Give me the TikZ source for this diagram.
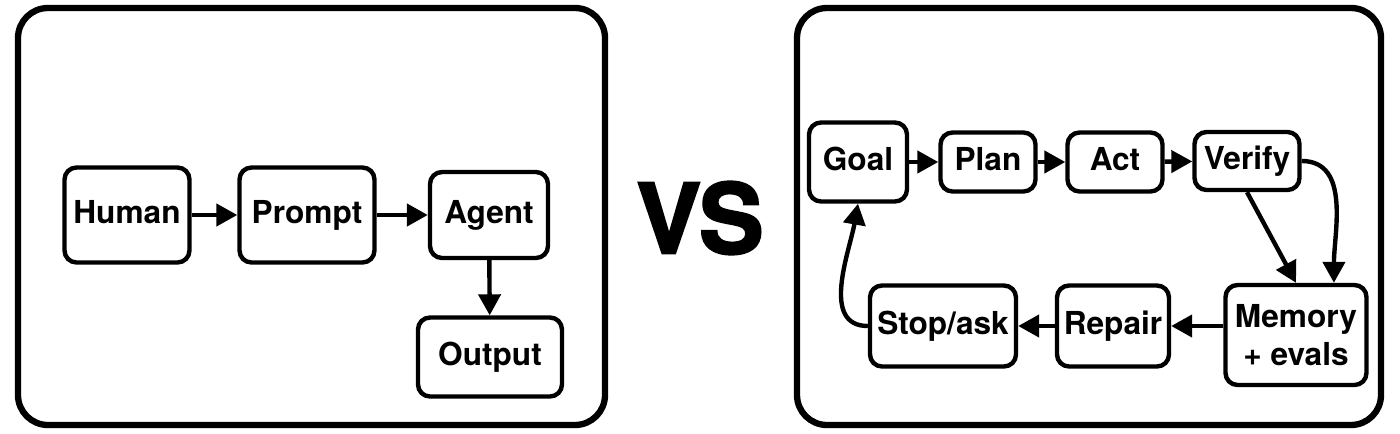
\documentclass[tikz,border=0pt]{standalone}
\usepackage{fontspec}
\setmainfont{TeX Gyre Heros}
\newfontfamily\vsfont{TeX Gyre Heros}[BoldFeatures={FakeBold=2.5}]
\usetikzlibrary{arrows.meta}

\begin{document}
\begin{tikzpicture}[x=0.02cm, y=-0.02cm, every node/.style={draw, rounded corners=0.24cm, line width=2.5pt, align=center, inner sep=0pt, text height=0.45cm, text depth=0.12cm, font=\fontsize{18}{20.5}\selectfont\bfseries}, arr/.style={line width=2.5pt, -{Triangle[length=0.42cm, width=0.44cm]}}]
    \useasboundingbox (0,0) rectangle (1400,433);
    \draw[line width=3.6pt, rounded corners=0.6cm] (18,8) rectangle (605,425);
    \draw[line width=3.6pt, rounded corners=0.6cm] (797,8) rectangle (1381,425);
    % left panel
    \node[minimum width=2.5cm, minimum height=1.9cm] (0) at (127,215) {Human};
    \node[minimum width=2.7cm, minimum height=1.9cm] (1) at (307,215) {Prompt};
    \node[minimum width=2.36cm, minimum height=1.72cm] (2) at (489,215) {Agent};
    \node[minimum width=2.88cm, minimum height=1.58cm] (3) at (490,357) {Output};
        \draw[arr] (0) -- (1);
        \draw[arr] (1) -- (2);
        \draw[arr] (2) -- (3);
    \node[draw=none, text height=, text depth=, font=\vsfont\fontsize{55}{60}\selectfont\bfseries] (vs) at (700,218) {VS};
    % right panel
    \node[minimum width=1.96cm, minimum height=1.58cm] (4) at (858,162) {Goal};
    \node[minimum width=1.9cm, minimum height=1.18cm] (5) at (988,162) {Plan};
    \node[minimum width=1.9cm, minimum height=1.18cm] (6) at (1115,162) {Act};
    \node[minimum width=2.1cm, minimum height=1.16cm] (7) at (1247,161) {Verify};
    \node[minimum width=2.82cm, minimum height=2cm, text height=, text depth=] (8) at (1296,335) {Memory\\[1pt]+ evals};
    \node[minimum width=2.24cm, minimum height=1.62cm] (9) at (1113,326) {Repair};
    \node[minimum width=2.92cm, minimum height=1.62cm] (10) at (943,326) {Stop/ask};
        \draw[arr] (4) -- (5);
        \draw[arr] (5) -- (6);
        \draw[arr] (6) -- (7);
        \draw[arr] (7.south) -- (8.north);
        \draw[arr] (7.east) to[out=0, in=90] (8.54);
        \draw[arr] (8.west |- 9.east) -- (9.east);
        \draw[arr] (9) -- (10);
        \draw[arr] (10.west) to[out=180, in=-100] (4.south);
\end{tikzpicture}
\end{document}
